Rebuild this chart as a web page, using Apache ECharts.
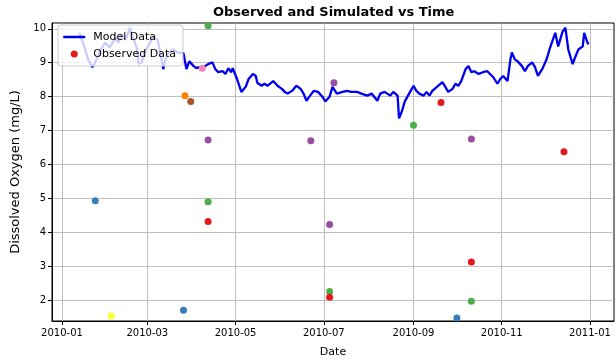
<!DOCTYPE html>
<html>
<head>
<meta charset="utf-8">
<script src="https://cdn.jsdelivr.net/npm/echarts@6.0.0/dist/echarts.min.js"></script>
<style>
  html, body { margin: 0; padding: 0; background: #ffffff; }
  #chart { width: 616px; height: 363px; }
</style>
</head>
<body>
<div id="chart"></div>
<script>
// Simulated dissolved oxygen (model output), mg/L
const modelDates = [
  '2010-01-13','2010-01-16','2010-01-19','2010-01-22','2010-01-24','2010-01-27','2010-01-31',
  '2010-02-03','2010-02-07','2010-02-09','2010-02-11','2010-02-14','2010-02-17','2010-02-19',
  '2010-02-22','2010-02-23','2010-02-25','2010-02-27','2010-03-03','2010-03-05','2010-03-08',
  '2010-03-10','2010-03-12','2010-03-13','2010-03-15','2010-03-19','2010-03-22','2010-03-26',
  '2010-03-28','2010-03-30','2010-04-02','2010-04-04','2010-04-06','2010-04-08','2010-04-12',
  '2010-04-15','2010-04-17','2010-04-19','2010-04-22','2010-04-24','2010-04-26','2010-04-28',
  '2010-04-29','2010-05-02','2010-05-05','2010-05-08','2010-05-10','2010-05-13','2010-05-15',
  '2010-05-16','2010-05-19','2010-05-21','2010-05-23','2010-05-27','2010-05-30','2010-06-02',
  '2010-06-04','2010-06-06','2010-06-09','2010-06-12','2010-06-15','2010-06-17','2010-06-19',
  '2010-06-21','2010-06-24','2010-06-27','2010-06-30','2010-07-02','2010-07-03','2010-07-05',
  '2010-07-07','2010-07-10','2010-07-14','2010-07-17','2010-07-20','2010-07-24','2010-07-27',
  '2010-07-31','2010-08-03','2010-08-07','2010-08-09','2010-08-12','2010-08-16','2010-08-18',
  '2010-08-21','2010-08-22','2010-08-24','2010-08-26','2010-08-30','2010-09-01','2010-09-03',
  '2010-09-05','2010-09-08','2010-09-10','2010-09-12','2010-09-14','2010-09-18','2010-09-21',
  '2010-09-23','2010-09-25','2010-09-28','2010-09-30','2010-10-02','2010-10-04','2010-10-07',
  '2010-10-09','2010-10-11','2010-10-13','2010-10-16','2010-10-19','2010-10-22','2010-10-26',
  '2010-10-29','2010-10-31','2010-11-02','2010-11-05','2010-11-07','2010-11-08','2010-11-10',
  '2010-11-12','2010-11-15','2010-11-17','2010-11-19','2010-11-22','2010-11-24','2010-11-26',
  '2010-11-29','2010-12-02','2010-12-04','2010-12-08','2010-12-10','2010-12-13','2010-12-15',
  '2010-12-17','2010-12-20','2010-12-22','2010-12-24','2010-12-27','2010-12-28','2010-12-30',
  '2010-12-31'
];
const modelDO = [
  9.88, 9.54, 9.10, 8.87, 9.01, 9.33, 9.59,
  9.45, 9.74, 9.59, 9.83, 9.68, 10.03, 9.77,
  9.39, 8.96, 9.01, 9.30, 9.59, 9.77, 9.68,
  9.30, 8.81, 9.01, 9.25, 9.39, 9.30, 9.28,
  8.81, 9.04, 8.90, 8.84, 8.87, 8.84, 8.96,
  9.01, 8.81, 8.72, 8.75, 8.67, 8.84, 8.72,
  8.84, 8.52, 8.14, 8.29, 8.52, 8.67, 8.61,
  8.41, 8.32, 8.38, 8.32, 8.46, 8.32, 8.23,
  8.14, 8.09, 8.17, 8.32, 8.23, 8.09, 7.88,
  8.00, 8.17, 8.14, 8.00, 7.86, 7.91, 8.00,
  8.29, 8.09, 8.14, 8.17, 8.14, 8.14, 8.09,
  8.03, 8.09, 7.88, 8.09, 8.14, 8.03, 8.14,
  8.03, 7.36, 7.57, 7.86, 8.17, 8.32, 8.17,
  8.09, 8.03, 8.14, 8.03, 8.17, 8.32, 8.43,
  8.29, 8.14, 8.23, 8.38, 8.32, 8.46, 8.81,
  8.90, 8.72, 8.75, 8.67, 8.72, 8.75, 8.58,
  8.38, 8.52, 8.61, 8.46, 9.10, 9.30, 9.10,
  9.04, 8.90, 8.75, 8.90, 9.01, 8.87, 8.61,
  8.81, 9.10, 9.39, 9.88, 9.48, 9.91, 10.03,
  9.39, 8.96, 9.19, 9.39, 9.48, 9.88, 9.62,
  9.54
];

// Field measurements, mg/L, with the sampling site index of each
const obsDates = [
  '2010-01-24','2010-02-04','2010-03-26','2010-03-27','2010-03-31','2010-04-08',
  '2010-04-12','2010-04-12','2010-04-12','2010-04-12','2010-06-22','2010-07-08',
  '2010-07-05','2010-07-05','2010-07-05','2010-09-01','2010-09-20','2010-10-01',
  '2010-10-11','2010-10-11','2010-10-11','2010-12-14'
];
const obsDO = [
  4.93, 1.54, 1.71, 8.03, 7.86, 8.84,
  10.09, 6.72, 4.90, 4.32, 6.70, 8.41,
  4.23, 2.26, 2.09, 7.16, 7.83, 1.48,
  6.75, 3.13, 1.97, 6.38
];
const obsSite = [
  1, 5, 1, 4, 6, 7,
  2, 3, 2, 0, 3, 3,
  3, 2, 0, 2, 0, 1,
  3, 0, 2, 0
];
const sitePalette = ['#e41a1c', '#377eb8', '#4daf4a', '#984ea3', '#ff7f00',
                     '#ffff33', '#a65628', '#f781bf', '#999999'];

// Axis ticks
const xTickDates = ['2010-01-01', '2010-03-01', '2010-05-01', '2010-07-01',
                    '2010-09-01', '2010-11-01', '2011-01-01'];
const yTicks = [2, 3, 4, 5, 6, 7, 8, 9, 10];

const DAY = 86400000;
function toTime(s) {
  const p = s.split('-').map(Number);
  return new Date(p[0], p[1] - 1, p[2]).getTime();
}
const t0 = toTime('2010-01-01');
const xMin = t0 - 6.9 * DAY;
const xMax = t0 + 381.6 * DAY;
const xTicks = xTickDates.map(toTime);

const FONT = 'DejaVu Sans';
const LINE_BLUE = '#0000ee';
const chart = echarts.init(document.getElementById('chart'), null, { renderer: 'canvas' });

chart.setOption({
  animation: false,
  backgroundColor: '#ffffff',
  textStyle: { fontFamily: FONT },
  title: {
    text: 'Observed and Simulated vs Time',
    left: 213,
    top: 6,
    padding: 0,
    textStyle: { fontFamily: FONT, fontSize: 13, fontWeight: 'bold', color: '#000000' }
  },
  legend: {
    orient: 'vertical',
    left: 58,
    top: 25,
    padding: [5, 7, 5, 4],
    itemGap: 3,
    itemWidth: 22,
    itemHeight: 7,
    backgroundColor: 'rgba(255,255,255,0.8)',
    borderColor: '#cccccc',
    borderWidth: 1,
    borderRadius: 3,
    textStyle: { fontFamily: FONT, fontSize: 11, color: '#000000', lineHeight: 14, padding: [0, 0, 0, 3] },
    data: [
      { name: 'Model Data', itemStyle: { opacity: 0 }, lineStyle: { color: LINE_BLUE, width: 2.5 } },
      { name: 'Observed Data' }
    ]
  },
  grid: {
    left: 52, right: 2, top: 23, bottom: 37,
    show: true, borderColor: '#000000', borderWidth: 1,
    containLabel: false
  },
  xAxis: {
    type: 'value',
    min: xMin,
    max: xMax,
    name: 'Date',
    nameLocation: 'middle',
    nameGap: 26,
    nameTextStyle: { fontFamily: FONT, fontSize: 11, color: '#000000' },
    axisLine: { show: true, onZero: false, lineStyle: { color: '#000000', width: 1 } },
    axisTick: { show: true, length: 4, lineStyle: { color: '#000000' }, customValues: xTicks },
    axisLabel: {
      fontFamily: FONT, fontSize: 10, color: '#000000', margin: 7,
      customValues: xTicks,
      formatter: function (v) {
        const d = new Date(v);
        return d.getFullYear() + '-' + String(d.getMonth() + 1).padStart(2, '0');
      }
    },
    splitLine: { show: true, lineStyle: { color: '#b0b0b0', width: 0.8 } }
  },
  yAxis: {
    type: 'value',
    min: 1.39,
    max: 10.17,
    name: 'Dissolved Oxygen (mg/L)',
    nameLocation: 'middle',
    nameRotate: 90,
    nameGap: 26,
    nameTextStyle: { fontFamily: FONT, fontSize: 13, color: '#000000' },
    axisLine: { show: true, onZero: false, lineStyle: { color: '#000000', width: 1 } },
    axisTick: { show: true, length: 4, lineStyle: { color: '#000000' }, customValues: yTicks },
    axisLabel: { fontFamily: FONT, fontSize: 10, color: '#000000', margin: 6, customValues: yTicks },
    splitLine: { show: true, lineStyle: { color: '#b0b0b0', width: 0.8 } }
  },
  series: [
    {
      name: 'Model Data',
      type: 'line',
      symbol: 'none',
      showSymbol: false,
      color: LINE_BLUE,
      lineStyle: { color: LINE_BLUE, width: 2.3 },
      data: modelDates.map(function (d, i) { return [toTime(d), modelDO[i]]; }),
      z: 2
    },
    {
      name: 'Observed Data',
      type: 'scatter',
      symbol: 'circle',
      symbolSize: 7,
      itemStyle: { color: sitePalette[0], opacity: 1 },
      data: obsDates.map(function (d, i) {
        return { value: [toTime(d), obsDO[i]], itemStyle: { color: sitePalette[obsSite[i]] } };
      }),
      z: 3
    }
  ]
});
</script>
</body>
</html>
